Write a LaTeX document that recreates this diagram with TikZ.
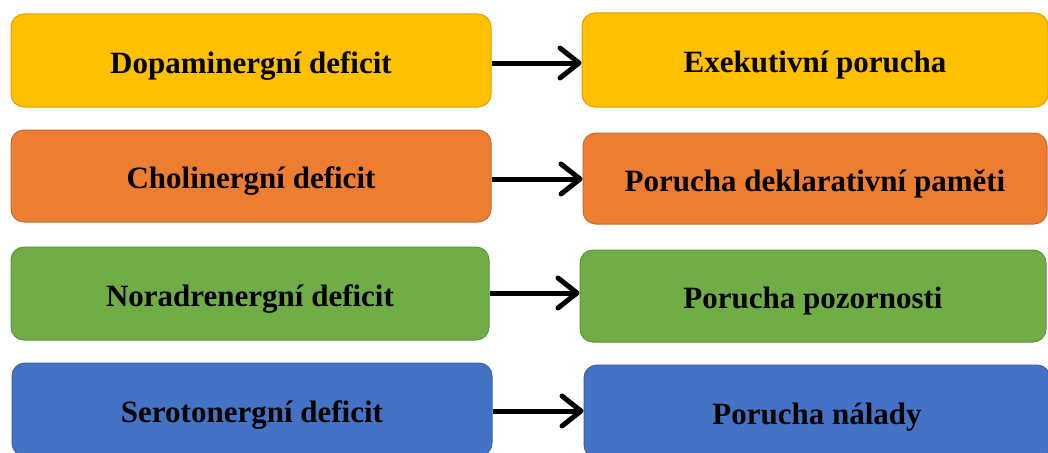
\documentclass[tikz,border=0pt]{standalone}
\usepackage{fontspec}
\setmainfont{Liberation Serif}
\usetikzlibrary{arrows.meta}
\definecolor{accYellow}{HTML}{FFC000}
\definecolor{accOrange}{HTML}{ED7D31}
\definecolor{accGreen}{HTML}{70AD47}
\definecolor{accBlue}{HTML}{4472C4}
\begin{document}
\begin{tikzpicture}[x=1pt,y=-1pt,
  cell/.style={rounded corners=13pt, line width=1pt, inner sep=0pt,
    text height=25pt, text depth=0pt,
    font=\fontsize{31}{36}\selectfont\bfseries, text=black},
  yel/.style={cell, fill=accYellow, draw=accYellow!85!black},
  ora/.style={cell, fill=accOrange, draw=accOrange!85!black},
  gre/.style={cell, fill=accGreen, draw=accGreen!85!black},
  blu/.style={cell, fill=accBlue, draw=accBlue!85!black},
  link/.style={line width=5pt, -{Straight Barb[length=19pt,width=30pt,round]}}]
\useasboundingbox (0,0) rectangle (1048,452);

% left column: neurotransmitter deficits
\node[yel, minimum width=480pt, minimum height=93pt] (L1) at (251,60.5) {Dopaminergní deficit};
\node[ora, minimum width=480pt, minimum height=92pt] (L2) at (251,176) {Cholinergní deficit};
\node[gre, minimum width=478pt, minimum height=93pt] (L3) at (250,293.5) {Noradrenergní deficit};
\node[blu, minimum width=480pt, minimum height=93pt] (L4) at (252,409.5) {Serotonergní deficit};

% right column: resulting disorders
\node[yel, minimum width=466pt, minimum height=94pt] (R1) at (815,60) {Exekutivní porucha};
\node[ora, minimum width=464pt, minimum height=91pt] (R2) at (815,178.5) {Porucha deklarativní paměti};
\node[gre, minimum width=466pt, minimum height=92pt] (R3) at (813,296) {Porucha pozornosti};
\node[blu, minimum width=466pt, minimum height=93pt] (R4) at (817,411.5) {Porucha nálady};

% arrows between the rows (canvas yshift points up, so negative moves down)
\draw[link] ([yshift=-2.5pt]L1.east) -- ([yshift=-2.5pt]L1.east -| R1.west);
\draw[link] ([yshift=-3pt]L2.east) -- ([yshift=-3pt]L2.east -| R2.west);
\draw[link] ([yshift=0.5pt]L3.east) -- ([yshift=0.5pt]L3.east -| R3.west);
\draw[link] ([yshift=-1.5pt]L4.east) -- ([yshift=-1.5pt]L4.east -| R4.west);
\end{tikzpicture}
\end{document}
